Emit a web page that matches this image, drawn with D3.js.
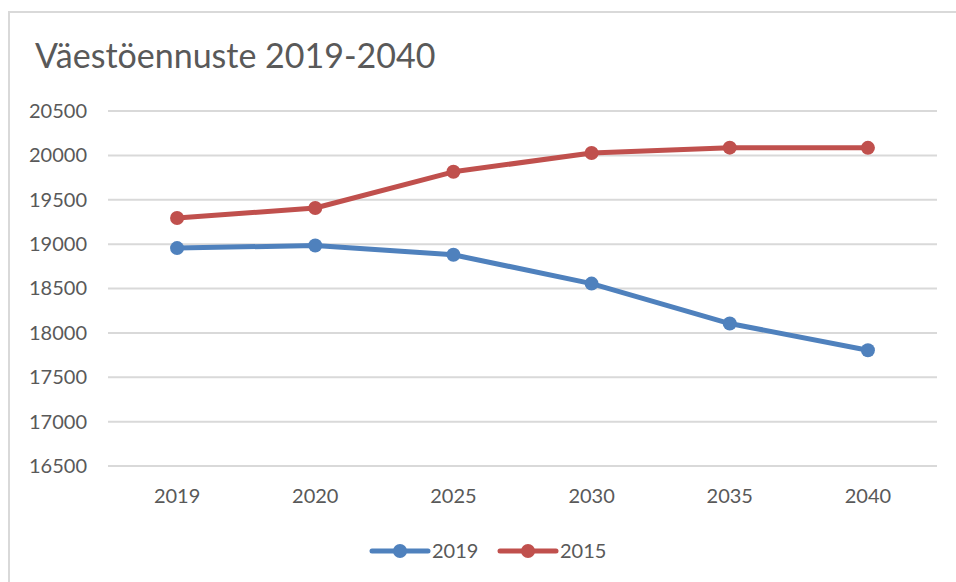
<!DOCTYPE html>
<html>
<head>
<meta charset="utf-8">
<script src="https://cdn.jsdelivr.net/npm/d3@7"></script>
<style>
  body { margin: 0; background: #fff; }
  text { font-family: Lato, "Open Sans", sans-serif; fill: #595959; }
</style>
</head>
<body>
<script>
let w = 956;
let h = 582;

// data
let years = ["2019", "2020", "2025", "2030", "2035", "2040"];
let s2019 = [18955, 18985, 18880, 18555, 18105, 17805];
let s2015 = [19295, 19407, 19815, 20027, 20087, 20085];
let yTicks = [16500, 17000, 17500, 18000, 18500, 19000, 19500, 20000, 20500];

let series = [
  { name: "2019", values: s2019, color: "#4f81bd" },
  { name: "2015", values: s2015, color: "#c0504d" },
];

let svg = d3.select("body").append("svg").attr("width", w).attr("height", h);

// chart frame (only top and left edges visible)
svg.append("path")
  .attr("d", "M9," + h + "V12H" + w)
  .attr("fill", "none")
  .attr("stroke", "#d9d9d9")
  .attr("stroke-width", 2);

svg.append("text")
  .attr("x", 35)
  .attr("y", 68)
  .style("font-size", "34px")
  .text("Väestöennuste 2019-2040");

let xScale = d3.scaleBand().domain(years).range([108, 937]);
let yScale = d3.scaleLinear().domain([16500, 20500]).range([466, 111]);

// gridlines
svg.append("g")
  .selectAll("line")
  .data(yTicks)
  .enter()
  .append("line")
  .attr("x1", 108)
  .attr("x2", 937)
  .attr("y1", (d) => yScale(d))
  .attr("y2", (d) => yScale(d))
  .attr("stroke", "#d9d9d9")
  .attr("stroke-width", 2);

let y_axis = d3.axisLeft(yScale).tickValues(yTicks).tickSize(0).tickPadding(0).tickFormat((d) => d);
let yg = svg.append("g").attr("transform", "translate(87,0)").call(y_axis);
yg.select(".domain").remove();
yg.selectAll("text").style("font-size", "20px").attr("fill", "#595959");

let x_axis = d3.axisBottom(xScale).tickSize(0).tickPadding(0);
let xg = svg.append("g").attr("transform", "translate(0,489)").call(x_axis);
xg.select(".domain").remove();
xg.selectAll("text").style("font-size", "20px").attr("fill", "#595959");

let line = d3.line()
  .x((d, i) => xScale(years[i]) + xScale.bandwidth() / 2)
  .y((d) => yScale(d));

series.forEach((s) => {
  svg.append("path")
    .attr("d", line(s.values))
    .attr("fill", "none")
    .attr("stroke", s.color)
    .attr("stroke-width", 5)
    .attr("stroke-linejoin", "round")
    .attr("stroke-linecap", "round");
  svg.append("g")
    .selectAll("circle")
    .data(s.values)
    .enter()
    .append("circle")
    .attr("cx", (d, i) => xScale(years[i]) + xScale.bandwidth() / 2)
    .attr("cy", (d) => yScale(d))
    .attr("r", 7)
    .attr("fill", s.color);
});

// legend
let legendX = [372, 500];
let legend = svg.append("g")
  .selectAll("g")
  .data(series)
  .enter()
  .append("g")
  .attr("transform", (d, i) => "translate(" + legendX[i] + ",551)");
legend.append("line")
  .attr("x1", 0).attr("x2", 56)
  .attr("stroke", (d) => d.color)
  .attr("stroke-width", 5)
  .attr("stroke-linecap", "round");
legend.append("circle")
  .attr("cx", 28).attr("r", 7)
  .attr("fill", (d) => d.color);
legend.append("text")
  .attr("x", 60)
  .attr("dy", "0.35em")
  .style("font-size", "20px")
  .text((d) => d.name);
</script>
</body>
</html>
